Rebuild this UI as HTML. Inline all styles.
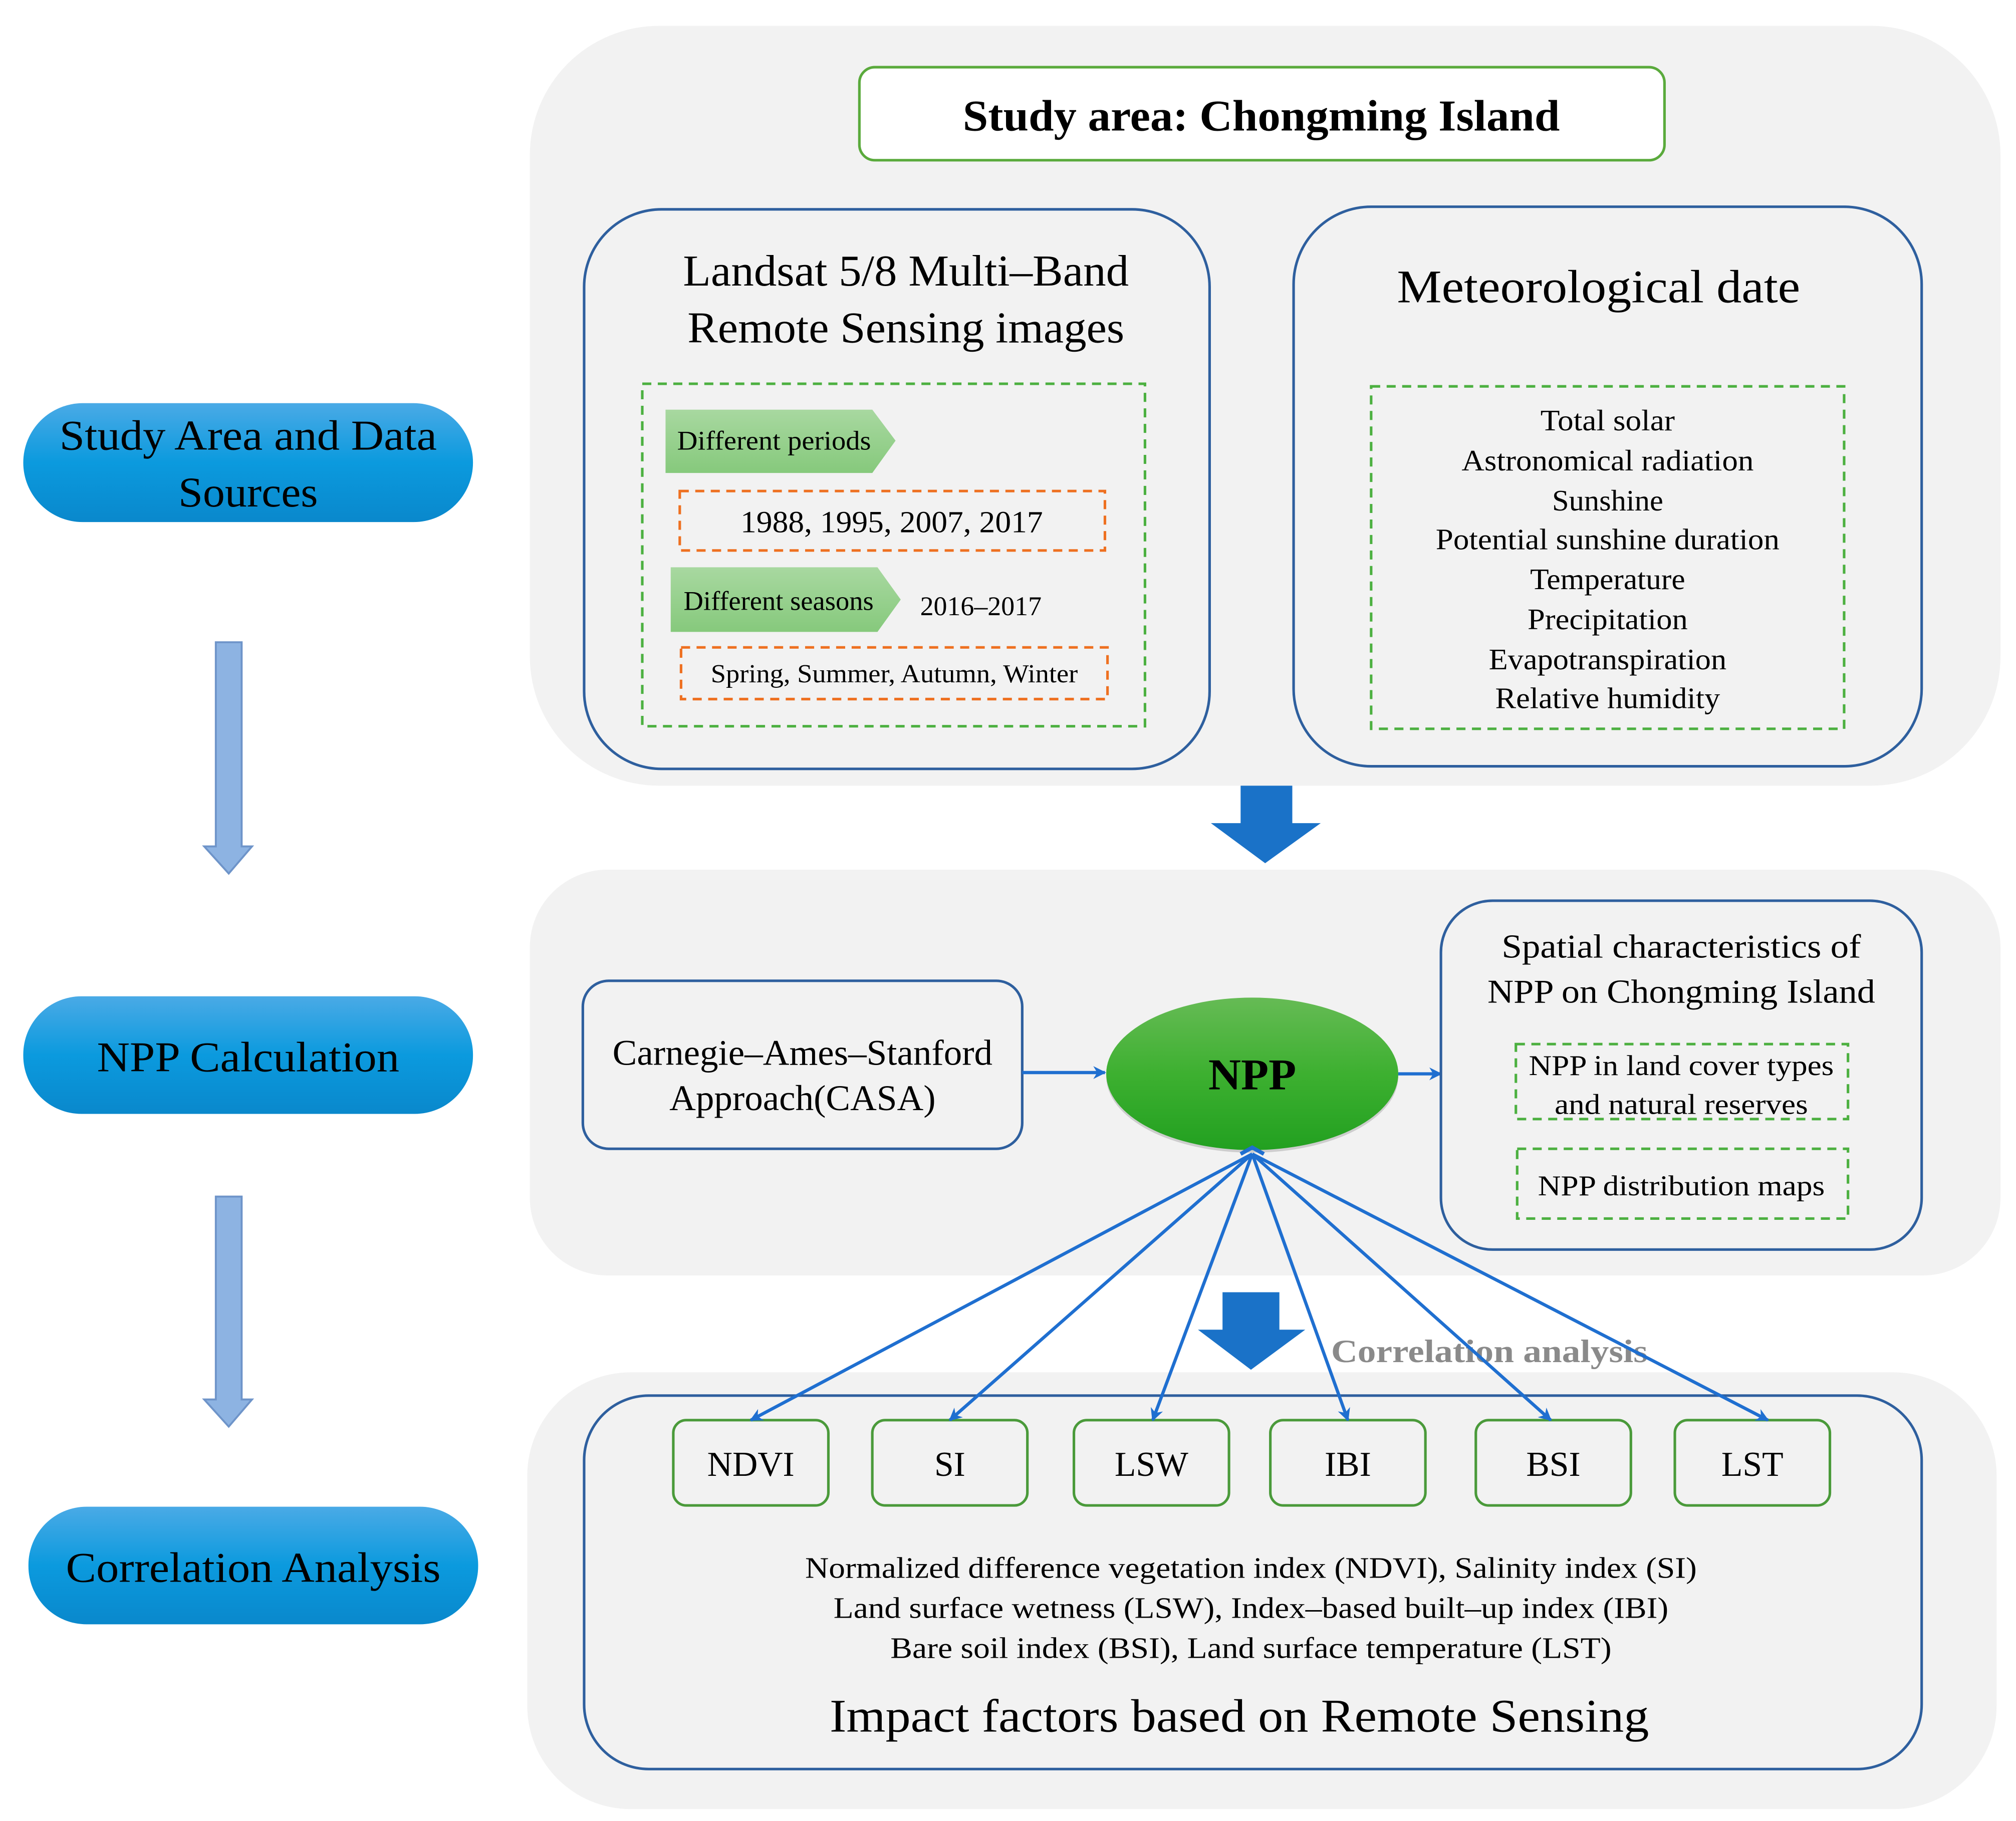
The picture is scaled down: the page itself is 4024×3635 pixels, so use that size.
<!DOCTYPE html>
<html><head><meta charset="utf-8"><style>
html,body{margin:0;padding:0;background:#fff;}
svg{display:block;font-family:"Liberation Serif","Times New Roman",serif;}
text{font-family:"Liberation Serif","Times New Roman",serif;fill:#000;}
</style></head><body>
<svg width="4024" height="3635" viewBox="0 0 1560 1409.2" preserveAspectRatio="none" xmlns="http://www.w3.org/2000/svg" font-family="Liberation Serif, serif">
<defs>
<linearGradient id="pill" x1="0" y1="0" x2="0" y2="1"><stop offset="0" stop-color="#4aaae6"/><stop offset="0.5" stop-color="#0b9ade"/><stop offset="1" stop-color="#0a88cc"/></linearGradient>
<linearGradient id="ell" x1="0" y1="0" x2="0" y2="1"><stop offset="0" stop-color="#66bb55"/><stop offset="0.5" stop-color="#3db030"/><stop offset="1" stop-color="#22a020"/></linearGradient>
<linearGradient id="pent" x1="0" y1="0" x2="0" y2="1"><stop offset="0" stop-color="#a8d8a0"/><stop offset="1" stop-color="#86c97c"/></linearGradient>
<marker id="ah" markerWidth="10" markerHeight="10" refX="9" refY="5" orient="auto" markerUnits="userSpaceOnUse"><path d="M0,0 L10,5 L0,10 L3,5 Z" fill="#1f6fd0"/></marker>
</defs>

<rect x="410" y="20" width="1138" height="588" rx="100" fill="#f2f2f2"/>
<rect x="410" y="673" width="1138" height="314" rx="60" fill="#f2f2f2"/>
<rect x="408" y="1062" width="1137" height="338" rx="80" fill="#f2f2f2"/>

<rect x="665" y="52" width="623" height="72" rx="12" fill="#fff" stroke="#5aaa3c" stroke-width="2"/>
<text x="976" y="101" font-size="34" font-weight="bold" text-anchor="middle" textLength="462" lengthAdjust="spacingAndGlyphs">Study area: Chongming Island</text>

<rect x="452" y="162" width="484" height="433" rx="60" fill="#f2f2f2" stroke="#2e5f9e" stroke-width="2"/>
<text x="701" y="221" font-size="34" text-anchor="middle" textLength="345" lengthAdjust="spacingAndGlyphs">Landsat 5/8 Multi–Band</text>
<text x="701" y="265" font-size="34" text-anchor="middle" textLength="338" lengthAdjust="spacingAndGlyphs">Remote Sensing images</text>
<rect x="497" y="297" width="389" height="265" fill="none" stroke="#4cb040" stroke-width="2" stroke-dasharray="7,5"/>
<polygon points="515,317 675,317 693,341 675,366 515,366" fill="url(#pent)"/>
<text x="524" y="348" font-size="21" textLength="150" lengthAdjust="spacingAndGlyphs">Different  periods</text>
<rect x="526" y="380" width="329" height="46" fill="none" stroke="#ee7020" stroke-width="2" stroke-dasharray="7,5"/>
<text x="690" y="412" font-size="24" text-anchor="middle" textLength="234" lengthAdjust="spacingAndGlyphs">1988, 1995, 2007, 2017</text>
<polygon points="519,439 679,439 697,464 679,489 519,489" fill="url(#pent)"/>
<text x="529" y="472" font-size="21" textLength="147" lengthAdjust="spacingAndGlyphs">Different seasons</text>
<text x="712" y="476" font-size="21" textLength="94" lengthAdjust="spacingAndGlyphs">2016–2017</text>
<rect x="527" y="501" width="330" height="40" fill="none" stroke="#ee7020" stroke-width="2" stroke-dasharray="7,5"/>
<text x="692" y="528" font-size="20" text-anchor="middle" textLength="284" lengthAdjust="spacingAndGlyphs">Spring, Summer, Autumn, Winter</text>

<rect x="1001" y="160" width="486" height="433" rx="60" fill="#f2f2f2" stroke="#2e5f9e" stroke-width="2"/>
<text x="1237" y="234" font-size="36" text-anchor="middle" textLength="312" lengthAdjust="spacingAndGlyphs">Meteorological date</text>
<rect x="1061" y="299" width="366" height="265" fill="none" stroke="#4cb040" stroke-width="2" stroke-dasharray="7,5"/>
<g font-size="23" text-anchor="middle">
<text x="1244" y="333" textLength="104" lengthAdjust="spacingAndGlyphs">Total solar</text>
<text x="1244" y="364" textLength="226" lengthAdjust="spacingAndGlyphs">Astronomical radiation</text>
<text x="1244" y="395" textLength="86" lengthAdjust="spacingAndGlyphs">Sunshine</text>
<text x="1244" y="425" textLength="266" lengthAdjust="spacingAndGlyphs">Potential sunshine duration</text>
<text x="1244" y="456" textLength="120" lengthAdjust="spacingAndGlyphs">Temperature</text>
<text x="1244" y="487" textLength="124" lengthAdjust="spacingAndGlyphs">Precipitation</text>
<text x="1244" y="518" textLength="184" lengthAdjust="spacingAndGlyphs">Evapotranspiration</text>
<text x="1244" y="548" textLength="174" lengthAdjust="spacingAndGlyphs">Relative humidity</text>
</g>

<polygon points="960,608 1000,608 1000,637 1022,637 979,668 937,637 960,637" fill="#1a72c8"/>

<rect x="18" y="312" width="348" height="92" rx="46" fill="url(#pill)"/>
<text x="192" y="348" font-size="33" text-anchor="middle" textLength="292" lengthAdjust="spacingAndGlyphs">Study Area and Data</text>
<text x="192" y="392" font-size="33" text-anchor="middle" textLength="108" lengthAdjust="spacingAndGlyphs">Sources</text>
<polygon points="167,497 187,497 187,655 195,655 177,676 158,655 167,655" fill="#8db3e2" stroke="#6e94c9" stroke-width="1.5"/>
<rect x="18" y="771" width="348" height="91" rx="45" fill="url(#pill)"/>
<text x="192" y="829" font-size="33" text-anchor="middle" textLength="234" lengthAdjust="spacingAndGlyphs">NPP Calculation</text>
<polygon points="167,926 187,926 187,1083 195,1083 177,1104 158,1083 167,1083" fill="#8db3e2" stroke="#6e94c9" stroke-width="1.5"/>
<rect x="22" y="1166" width="348" height="91" rx="45" fill="url(#pill)"/>
<text x="196" y="1224" font-size="33" text-anchor="middle" textLength="290" lengthAdjust="spacingAndGlyphs">Correlation Analysis</text>

<rect x="451" y="759" width="340" height="130" rx="20" fill="#f2f2f2" stroke="#2e5f9e" stroke-width="2"/>
<text x="621" y="824" font-size="28" text-anchor="middle" textLength="294" lengthAdjust="spacingAndGlyphs">Carnegie–Ames–Stanford</text>
<text x="621" y="859" font-size="28" text-anchor="middle" textLength="206" lengthAdjust="spacingAndGlyphs">Approach(CASA)</text>
<line x1="791" y1="830" x2="855" y2="830" stroke="#1f6fd0" stroke-width="2.5" marker-end="url(#ah)"/>
<ellipse cx="969" cy="833" rx="113" ry="59" fill="#8a8a8a" opacity="0.35"/>
<ellipse cx="969" cy="831" rx="113" ry="59" fill="url(#ell)"/>
<text x="969" y="843" font-size="34" font-weight="bold" text-anchor="middle" textLength="68" lengthAdjust="spacingAndGlyphs">NPP</text>
<line x1="1082" y1="831" x2="1115" y2="831" stroke="#1f6fd0" stroke-width="2.5" marker-end="url(#ah)"/>
<rect x="1115" y="697" width="372" height="270" rx="40" fill="#f2f2f2" stroke="#2e5f9e" stroke-width="2"/>
<text x="1301" y="741" font-size="26" text-anchor="middle" textLength="278" lengthAdjust="spacingAndGlyphs">Spatial characteristics of</text>
<text x="1301" y="776" font-size="26" text-anchor="middle" textLength="300" lengthAdjust="spacingAndGlyphs">NPP on Chongming Island</text>
<rect x="1173" y="808" width="257" height="58" fill="none" stroke="#4cb040" stroke-width="2" stroke-dasharray="7,5"/>
<text x="1301" y="832" font-size="22" text-anchor="middle" textLength="236" lengthAdjust="spacingAndGlyphs">NPP in land cover types</text>
<text x="1301" y="862" font-size="22" text-anchor="middle" textLength="196" lengthAdjust="spacingAndGlyphs">and natural reserves</text>
<rect x="1174" y="889" width="256" height="54" fill="none" stroke="#4cb040" stroke-width="2" stroke-dasharray="7,5"/>
<text x="1301" y="925" font-size="22" text-anchor="middle" textLength="222" lengthAdjust="spacingAndGlyphs">NPP distribution maps</text>

<rect x="452" y="1080" width="1035" height="289" rx="50" fill="#f2f2f2" stroke="#2e5f9e" stroke-width="2"/>
<g fill="#f2f2f2" stroke="#4a9a3a" stroke-width="2">
<rect x="521" y="1099" width="120" height="66" rx="10"/>
<rect x="675" y="1099" width="120" height="66" rx="10"/>
<rect x="831" y="1099" width="120" height="66" rx="10"/>
<rect x="983" y="1099" width="120" height="66" rx="10"/>
<rect x="1142" y="1099" width="120" height="66" rx="10"/>
<rect x="1296" y="1099" width="120" height="66" rx="10"/>
</g>
<g font-size="27" text-anchor="middle">
<text x="581" y="1142">NDVI</text>
<text x="735" y="1142">SI</text>
<text x="891" y="1142">LSW</text>
<text x="1043" y="1142">IBI</text>
<text x="1202" y="1142">BSI</text>
<text x="1356" y="1142">LST</text>
</g>
<polygon points="946,1000 990,1000 990,1029 1010,1029 968,1060 927,1029 946,1029" fill="#1a72c8"/>
<text x="1030" y="1054" font-size="25" font-weight="bold" style="fill:#8a8a8a" textLength="245" lengthAdjust="spacingAndGlyphs">Correlation analysis</text>
<g stroke="#1f6fd0" stroke-width="2.5" fill="none" marker-end="url(#ah)">
<line x1="969" y1="893" x2="581" y2="1099"/>
<line x1="969" y1="893" x2="735" y2="1099"/>
<line x1="969" y1="893" x2="892" y2="1099"/>
<line x1="969" y1="893" x2="1043" y2="1099"/>
<line x1="969" y1="893" x2="1200" y2="1099"/>
<line x1="969" y1="893" x2="1368" y2="1099"/>
</g>
<path d="M960,893 L969,888 L978,893" fill="none" stroke="#1f6fd0" stroke-width="3"/>
<g font-size="23" text-anchor="middle">
<text x="968" y="1221" textLength="690" lengthAdjust="spacingAndGlyphs">Normalized difference vegetation index  (NDVI),  Salinity index  (SI)</text>
<text x="968" y="1252" textLength="646" lengthAdjust="spacingAndGlyphs">Land surface wetness  (LSW),  Index–based built–up index  (IBI)</text>
<text x="968" y="1283" textLength="558" lengthAdjust="spacingAndGlyphs">Bare soil index  (BSI),  Land surface temperature  (LST)</text>
</g>
<text x="959" y="1340" font-size="36" text-anchor="middle" textLength="634" lengthAdjust="spacingAndGlyphs">Impact factors based on Remote Sensing</text>
</svg>
</body></html>
